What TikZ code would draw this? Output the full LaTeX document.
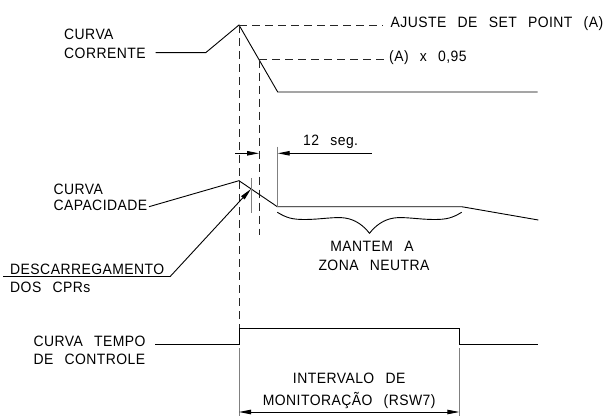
\documentclass[tikz,border=0pt]{standalone}
\usepackage{fontspec}
\setmainfont{Liberation Sans}[LetterSpace=3,WordSpace=2.6,FakeStretch=0.93]
\usetikzlibrary{arrows.meta}
\begin{document}
\begin{tikzpicture}[x=1pt,y=-1pt,
  lbl/.style={anchor=base west,inner sep=0pt,font=\fontsize{15}{17}\selectfont},
  clbl/.style={anchor=base,inner sep=0pt,font=\fontsize{15}{17}\selectfont},
  curve/.style={line width=0.9pt,black},
  dsh/.style={line width=0.9pt,black!85,dash pattern=on 8pt off 5pt},
  ext/.style={line width=0.9pt,black!50},
  tip/.style={-{Triangle[length=12pt,width=4.5pt]}},
  dimline/.style={line width=0.9pt,black},
]
\useasboundingbox (0,0) rectangle (613,417);

% ---------------- current curve
\node[lbl] (cca) at (64,40) {CURVA};
\node[lbl] (ccb) at (64,58.3) {CORRENTE};
\coordinate (i0) at (155.7,52.7);
\coordinate (i1) at (205.7,52.7);
\coordinate (ipk) at (239,25);
\coordinate (i2) at (259,59.6);
\coordinate (i3) at (277.7,92);
\coordinate (i4) at (537.7,92);
\draw[curve] (i0) -- (i1) -- (ipk) -- (i3) -- (i4);
\coordinate (d1e) at (383,25);
\coordinate (d2e) at (385,59.6);
\draw[dsh] (ipk) -- (d1e);
\draw[dsh] (i2) -- (d2e);
\node[lbl] (sp) at (390.5,27.7) {AJUSTE DE SET POINT (A)};
\node[lbl] (sp95) at (389,62) {(A) x 0,95};

% vertical dashed guides
\coordinate (t1) at (239,328.3);
\coordinate (v2e) at (259,235);
\draw[dsh] (ipk) -- (t1);
\draw[dsh] (i2) -- (v2e);

% ---------------- capacity curve
\node[lbl] (cpa) at (53.3,194.7) {CURVA};
\node[lbl] (cpb) at (53.3,210.7) {CAPACIDADE};
\coordinate (p0) at (149,206.7);
\coordinate (ppk) at (239,180.7);
\coordinate (p1) at (277.3,206.7);
\coordinate (p2) at (461.7,206.7);
\coordinate (p3) at (538.3,220);
\draw[curve] (p0) -- (ppk) -- (p1) -- (p2) -- (p3);
\coordinate (gA) at (251,178.3);
\coordinate (gB) at (251,213.3);
\draw[ext] (gA) -- (gB);
\coordinate (eA) at (277.7,146.7);
\coordinate (eB) at (277.7,206.7);
\draw[ext] (eA) -- (eB);
% 12 seg dimension
\coordinate (m0) at (235,153.3);
\coordinate (m1) at (259,153.3);
\coordinate (m2) at (277.7,153.3);
\coordinate (m3) at (371.7,153.3);
\draw[dimline,tip] (m0) -- (m1);
\draw[dimline,tip] (m3) -- (m2);
\node[lbl] (seg) at (303,146) {12 seg.};

% brace
\draw[curve] (277.3,212.3) .. controls (287,218) and (292,219.5) .. (305,219.5)
  .. controls (320,219.5) and (335,216.5) .. (345,218)
  .. controls (355,219.5) and (363,225) .. (369.5,233.3)
  .. controls (376,225) and (384,219.5) .. (394,218)
  .. controls (404,216.5) and (419,219.5) .. (434,219.5)
  .. controls (447,219.5) and (452,218) .. (461.7,212.3);
\node[clbl] (man) at (372,251.7) {MANTEM A};
\node[clbl] (zon) at (374,270) {ZONA NEUTRA};

% descarregamento
\node[lbl] (des) at (10,274.3) {DESCARREGAMENTO};
\node[lbl] (dos) at (10,292) {DOS CPRs};
\coordinate (u0) at (3,276.7);
\coordinate (u1) at (170,276.7);
\coordinate (utip) at (251,189);
\draw[curve] (u0) -- (u1);
\draw[curve,tip] (u1) -- (utip);

% ---------------- control time curve
\node[lbl] (cta) at (33.3,346) {CURVA TEMPO};
\node[lbl] (ctb) at (33.3,364.3) {DE CONTROLE};
\coordinate (k0) at (155,344);
\coordinate (k1) at (239,344);
\coordinate (k2) at (459.3,328.3);
\coordinate (k3) at (459.3,344);
\coordinate (k4) at (538.3,344);
\draw[curve] (k0) -- (k1) -- (t1) -- (k2) -- (k3) -- (k4);
\coordinate (x1a) at (239,348.3);
\coordinate (x1b) at (239,415.7);
\coordinate (x2a) at (459.3,348.3);
\coordinate (x2b) at (459.3,415.7);
\draw[ext] (x1a) -- (x1b);
\draw[ext] (x2a) -- (x2b);
\coordinate (r0) at (239,412);
\coordinate (r1) at (459.3,412);
\draw[dimline,{Triangle[length=12pt,width=4.5pt]}-{Triangle[length=12pt,width=4.5pt]}] (r0) -- (r1);
\node[clbl] (int) at (349.2,383.3) {INTERVALO DE};
\node[clbl] (mon) at (349.2,405) {MONITORAÇÃO (RSW7)};
\end{tikzpicture}
\end{document}
